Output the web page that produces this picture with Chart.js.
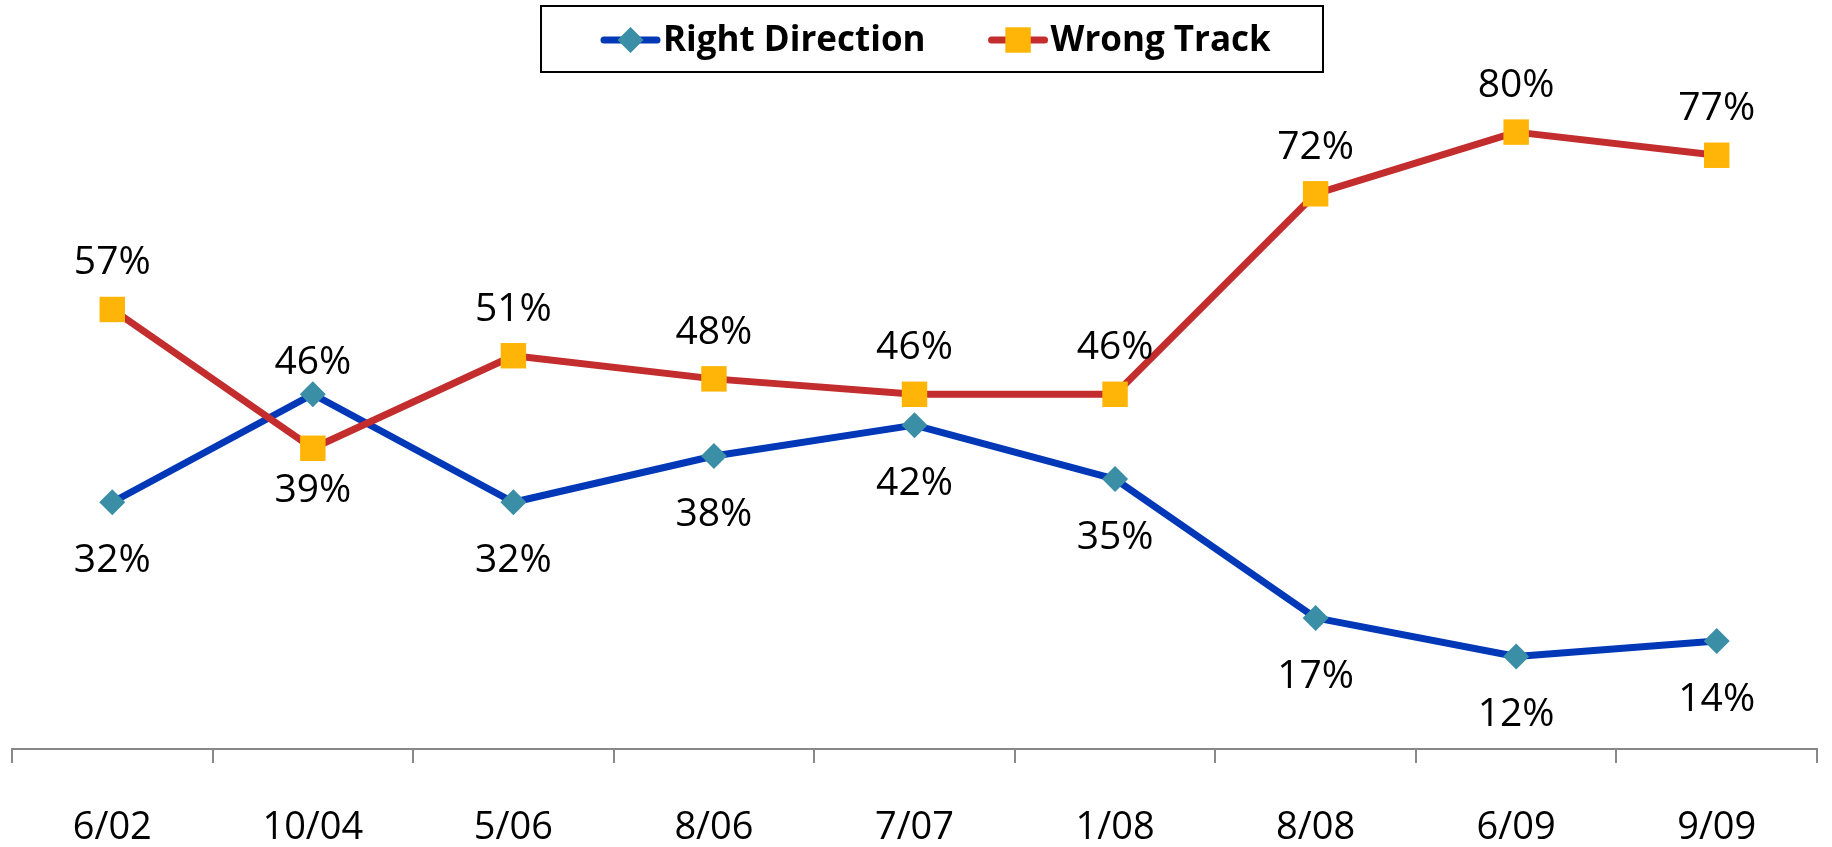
<!DOCTYPE html>
<html>
<head>
<meta charset="utf-8">
<script src="https://cdn.jsdelivr.net/npm/chart.js@4.4.1/dist/chart.umd.min.js"></script>
<style>
  html, body { margin: 0; padding: 0; background: #fff; }
  #wrap { position: relative; width: 1832px; height: 847px; }
</style>
</head>
<body>
<div id="wrap"><canvas id="trend"></canvas></div>
<script>
// survey waves
const waves = ['6/02', '10/04', '5/06', '8/06', '7/07', '1/08', '8/08', '6/09', '9/09'];
const rightDirection = [32, 46, 32, 38, 42, 35, 17, 12, 14];
const wrongTrack = [57, 39, 51, 48, 46, 46, 72, 80, 77];
const seriesNames = ['Right Direction', 'Wrong Track'];

const LABEL_FONT = '39px "Open Sans"';
const LEGEND_FONT = 'bold 35px "Open Sans"';

// value labels: above/below the marker, swapped where the lines cross
const valueLabels = {
    id: 'valueLabels',
    afterDatasetsDraw(chart) {
        const ctx = chart.ctx;
        const r = chart.getDatasetMeta(0).data;
        const w = chart.getDatasetMeta(1).data;
        ctx.save();
        ctx.font = LABEL_FONT;
        ctx.fillStyle = '#000';
        ctx.textAlign = 'center';
        ctx.textBaseline = 'alphabetic';
        waves.forEach((_, i) => {
            const crossed = rightDirection[i] > wrongTrack[i];
            // baseline = visual centre of the digits + ~14px
            const rOff = crossed ? -34 : 56;
            const wOff = crossed ? 40 : -49;
            ctx.fillText(rightDirection[i] + '%', r[i].x, r[i].y + rOff + 14);
            ctx.fillText(wrongTrack[i] + '%', w[i].x, w[i].y + wOff + 14);
        });
        ctx.restore();
    }
};

// framed legend, line + marker like the office chart
const boxedLegend = {
    id: 'boxedLegend',
    afterDraw(chart) {
        const ctx = chart.ctx;
        const box = { x: 541, y: 6, w: 782, h: 66 };
        const cy = box.y + box.h / 2 + 1;
        ctx.save();
        ctx.lineWidth = 2;
        ctx.strokeStyle = '#000';
        ctx.strokeRect(box.x, box.y, box.w, box.h);
        ctx.font = LEGEND_FONT;
        ctx.textBaseline = 'middle';
        let x = box.x + 60;
        chart.data.datasets.forEach((ds, i) => {
            ctx.strokeStyle = ds.borderColor;
            ctx.lineWidth = 7;
            ctx.lineCap = 'round';
            ctx.beginPath();
            ctx.moveTo(x + 3, cy);
            ctx.lineTo(x + 56, cy);
            ctx.stroke();
            ctx.fillStyle = ds.pointBackgroundColor;
            Chart.helpers.drawPoint(ctx, {
                pointStyle: ds.pointStyle,
                radius: ds.pointRadius,
                rotation: 0,
                borderWidth: 0
            }, x + 29.5, cy);
            ctx.fillStyle = '#000';
            ctx.fillText(ds.label, x + 62, cy + 1);
            x += 62 + ctx.measureText(ds.label).width + 63;
        });
        ctx.restore();
    }
};

new Chart(document.getElementById('trend'), {
    type: 'line',
    data: {
        labels: waves,
        datasets: [{
            label: seriesNames[0],
            data: rightDirection,
            borderColor: '#0038B8',
            borderWidth: 7,
            pointStyle: 'rectRot',
            pointRadius: 13,
            pointBackgroundColor: '#3A8FA7',
            pointBorderWidth: 0,
            order: 1
        }, {
            label: seriesNames[1],
            data: wrongTrack,
            borderColor: '#C32D2E',
            borderWidth: 7,
            pointStyle: 'rect',
            pointRadius: 18,
            pointBackgroundColor: '#FFB508',
            pointBorderWidth: 0,
            order: 0
        }]
    },
    options: {
        responsive: true,
        maintainAspectRatio: false,
        animation: false,
        events: [],
        layout: { autoPadding: false, padding: { left: 12, right: 15, top: 55, bottom: 0 } },
        elements: { line: { tension: 0, borderJoinStyle: 'round' } },
        plugins: { legend: { display: false }, tooltip: { enabled: false } },
        scales: {
            x: {
                offset: true,
                border: { color: '#888', width: 2 },
                grid: { offset: true, drawOnChartArea: false, drawTicks: true, tickLength: 14, color: '#888', lineWidth: 2 },
                ticks: { color: '#000', padding: 42, font: { family: 'Open Sans', size: 38 } },
                afterFit(scale) { scale.height = 98; }
            },
            y: { display: false, min: 0, max: 90 }
        }
    },
    plugins: [valueLabels, boxedLegend]
});
</script>
</body>
</html>
